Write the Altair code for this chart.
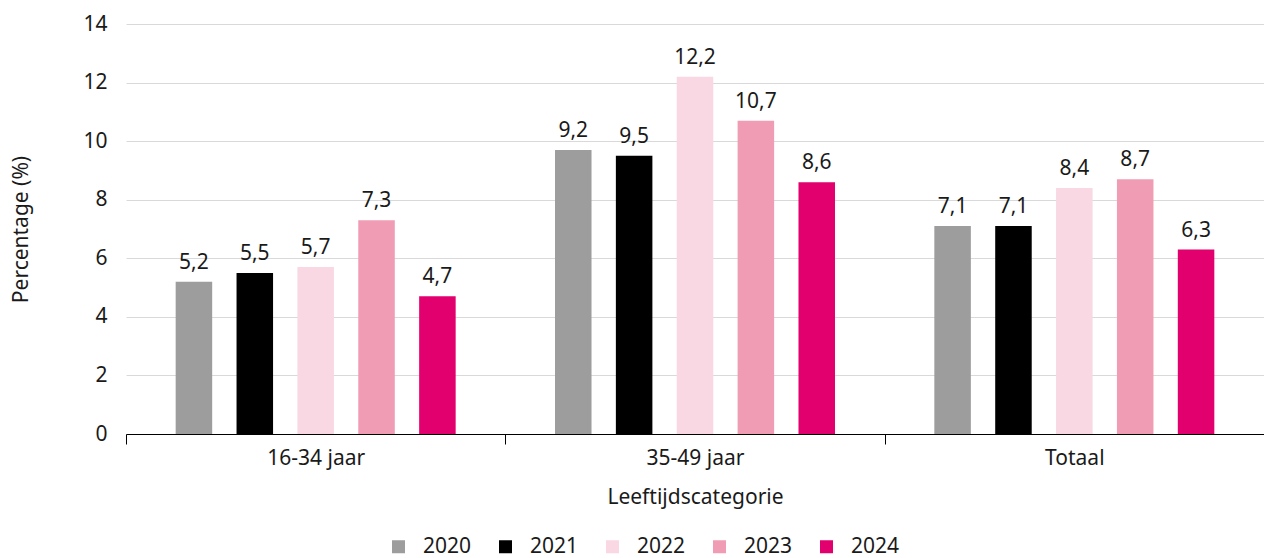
import altair as alt
import pandas as pd

categories = ["16-34 jaar", "35-49 jaar", "Totaal"]
years = ["2020", "2021", "2022", "2023", "2024"]
values = {
    "16-34 jaar": [5.2, 5.5, 5.7, 7.3, 4.7],
    "35-49 jaar": [9.7, 9.5, 12.2, 10.7, 8.6],
    "Totaal": [7.1, 7.1, 8.4, 8.7, 6.3],
}
labels = {
    "16-34 jaar": ["5,2", "5,5", "5,7", "7,3", "4,7"],
    "35-49 jaar": ["9,2", "9,5", "12,2", "10,7", "8,6"],
    "Totaal": ["7,1", "7,1", "8,4", "8,7", "6,3"],
}
colors = ["#9d9d9d", "#000000", "#f9d7e3", "#f09cb5", "#e2006e"]

rows = []
for c in categories:
    for i, y in enumerate(years):
        rows.append({"cat": c, "year": y, "value": values[c][i], "label": labels[c][i]})
df = pd.DataFrame(rows)

FONT = "Noto Sans"
TXT = "#1a1a1a"

base = alt.Chart(df).encode(
    x=alt.X("cat:N", sort=categories,
            scale=alt.Scale(paddingInner=0, paddingOuter=0),
            axis=alt.Axis(title="Leeftijdscategorie", labelAngle=0, tickBand="extent",
                          domainColor="#000000", tickColor="#000000", tickSize=10,
                          labelPadding=3, labelFontSize=21, titleFontSize=21,
                          titleFontWeight="normal", titleY=63, titleBaseline="middle",
                          grid=False)),
    xOffset=alt.XOffset("year:N", sort=years,
                        scale=alt.Scale(paddingInner=0.4, paddingOuter=0.816)),
)

bars = base.mark_bar().encode(
    y=alt.Y("value:Q", scale=alt.Scale(domain=[0, 14]),
            axis=alt.Axis(title="Percentage (%)", values=[0, 2, 4, 6, 8, 10, 12, 14],
                          domain=False, ticks=False, labelPadding=19,
                          labelFontSize=21, titleFontSize=21, titleFontWeight="normal",
                          gridColor="#d9d9d9", gridWidth=1,
                          titleAngle=-90, titleX=-105, titleY=205,
                          titleAlign="center", titleBaseline="middle")),
    color=alt.Color("year:N", sort=years,
                    scale=alt.Scale(domain=years, range=colors),
                    legend=alt.Legend(title=None, orient="none", direction="horizontal",
                                      legendX=262, legendY=512, columns=5,
                                      symbolType="square", symbolSize=169,
                                      symbolStrokeWidth=0, labelFontSize=21,
                                      labelOffset=14, columnPadding=23)),
)

text = base.mark_text(baseline="alphabetic", dy=-13, fontSize=21, font=FONT, color=TXT).encode(
    y="value:Q",
    text="label:N",
)

chart = (bars + text).properties(
    width=1138, height=410,
    autosize=alt.AutoSizeParams(type="none"),
    padding={"left": 118, "top": 16, "right": 0, "bottom": 124},
).configure(font=FONT).configure_view(stroke=None).configure_axis(
    labelColor=TXT, titleColor=TXT, labelFont=FONT, titleFont=FONT
).configure_legend(labelColor=TXT, labelFont=FONT)

chart.save("out.html", embed_options={"renderer": "svg", "actions": False})
